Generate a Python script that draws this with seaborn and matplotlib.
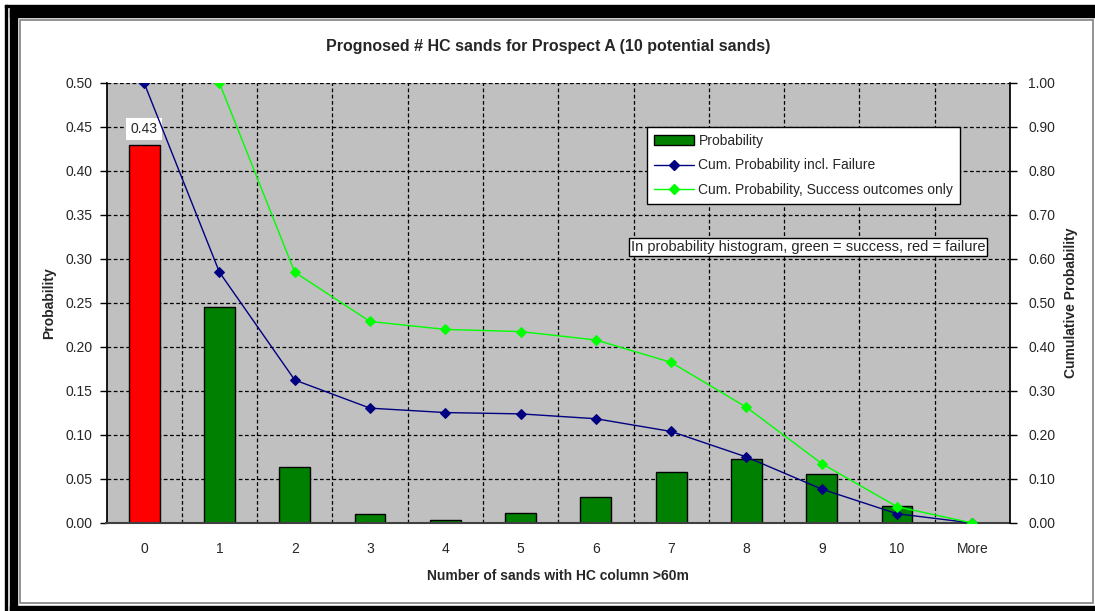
import numpy as np
import matplotlib
matplotlib.use("Agg")
import matplotlib.pyplot as plt
from matplotlib.patches import Rectangle, Patch
from matplotlib.lines import Line2D
import seaborn as sns

# Chart data
categories = ["0", "1", "2", "3", "4", "5", "6", "7", "8", "9", "10", "More"]
probability = [0.43, 0.245, 0.064, 0.010, 0.003, 0.011, 0.029, 0.058, 0.073, 0.056, 0.019, 0.0]
cum_incl_failure = [1.00, 0.570, 0.325, 0.261, 0.251, 0.248, 0.237, 0.208, 0.150, 0.077, 0.021, 0.0]
# success-only curve has no value at 0 sands
success_cats = ["1", "2", "3", "4", "5", "6", "7", "8", "9", "10", "More"]
cum_success_only = [1.00, 0.570, 0.458, 0.440, 0.435, 0.416, 0.365, 0.263, 0.135, 0.037, 0.0]
bar_colors = ["#FF0000"] + ["#008000"] * 11

sns.set_theme(style="white")
plt.rcParams["font.family"] = ["Liberation Sans", "DejaVu Sans"]

W, H = 1095, 611
fig = plt.figure(figsize=(W / 100, H / 100), dpi=100)
fig.patch.set_facecolor("white")


def frame_rect(x0, y0, x1, y1, **kw):
    # pixel box (top-left origin) -> figure rectangle
    fig.patches.append(Rectangle((x0 / W, 1 - y1 / H), (x1 - x0) / W, (y1 - y0) / H,
                                 transform=fig.transFigure, **kw))


# outer frame like the Excel chart border
frame_rect(5, 5, 6.7, 611, color="black")
frame_rect(5, 5, W, 6.7, color="black")
frame_rect(10, 8.5, 17.3, 611, color="black")
frame_rect(10, 8.5, W, 17, color="black")
frame_rect(10, 605.5, W, 611, color="black")
frame_rect(19.5, 19.5, 1093, 602.5, fill=False, edgecolor="#808080", linewidth=1.2)

ax_l, ax_r, ax_t, ax_b = 106.5, 1010, 83, 523
ax = fig.add_axes([ax_l / W, 1 - ax_b / H, (ax_r - ax_l) / W, (ax_b - ax_t) / H])
ax.set_facecolor("#C0C0C0")

x_pos = np.arange(len(categories))
sns.barplot(x=categories, y=probability, hue=categories, palette=bar_colors, legend=False,
            width=0.41, edgecolor="black", linewidth=1, ax=ax, saturation=1)

ax.set_xlim(-0.5, len(categories) - 0.5)
ax.set_ylim(0, 0.5)
ax.set_yticks(np.arange(0, 0.501, 0.05))
ax.set_yticklabels([f"{v:.2f}" for v in np.arange(0, 0.501, 0.05)], fontsize=10)
ax.set_xticks(np.arange(-0.5, len(categories), 1.0))
ax.set_xticklabels([])
ax.set_xticks(x_pos, minor=True)
ax.set_xticklabels(categories, minor=True, fontsize=10)
ax.tick_params(axis="x", which="major", length=5, width=1, color="black", direction="out")
ax.tick_params(axis="x", which="minor", length=0, pad=14)
ax.tick_params(axis="y", length=5, width=1, color="black", direction="out", left=True, pad=5)
ax.grid(True, which="major", color="black", linestyle=(0, (3, 2)), linewidth=0.9)
ax.set_axisbelow(True)
for s in ["top", "right"]:
    ax.spines[s].set_visible(False)
ax.spines["left"].set_color("black")
ax.spines["bottom"].set_color("#404040")
ax.spines["bottom"].set_linewidth(1.5)

ax.set_ylabel("Probability", fontsize=10, fontweight="bold", labelpad=7)
ax.set_xlabel("Number of sands with HC column >60m", fontsize=10, fontweight="bold", labelpad=9)
fig.text(548 / W, 1 - 47 / H, "Prognosed # HC sands for Prospect A (10 potential sands)",
         fontsize=11.5, fontweight="bold", ha="center", va="center")

# label on the failure bar
ax.annotate(f"{probability[0]:.2f}", (0, probability[0]), xytext=(0, 11), textcoords="offset points",
            ha="center", va="center", fontsize=10,
            bbox=dict(boxstyle="square,pad=0.3", facecolor="white", edgecolor="none"))

ax2 = ax.twinx()
sns.lineplot(x=x_pos, y=cum_incl_failure, ax=ax2, color="#000080", marker="D",
             markersize=5, markeredgecolor="#000080", linewidth=1)
sns.lineplot(x=x_pos[1:], y=cum_success_only, ax=ax2, color="#00FF00", marker="D",
             markersize=5, markeredgecolor="#00FF00", linewidth=1)
ax2.set_ylim(0, 1.0)
ax2.set_yticks(np.arange(0, 1.001, 0.1))
ax2.set_yticklabels([f"{v:.2f}" for v in np.arange(0, 1.001, 0.1)], fontsize=10)
ax2.tick_params(axis="y", length=5, width=1, color="black", direction="out", right=True, pad=8)
ax2.set_ylabel("Cumulative Probability", fontsize=10, fontweight="bold", labelpad=6)
for s in ["top", "left", "bottom"]:
    ax2.spines[s].set_visible(False)
ax2.spines["right"].set_color("black")
ax2.grid(False)

handles = [
    Patch(facecolor="#008000", edgecolor="black", label="Probability"),
    Line2D([], [], color="#000080", marker="D", markersize=5, linewidth=1,
           label="Cum. Probability incl. Failure"),
    Line2D([], [], color="#00FF00", marker="D", markersize=5, linewidth=1,
           label="Cum. Probability, Success outcomes only"),
]
aw, ah = ax_r - ax_l, ax_b - ax_t
leg = ax2.legend(handles=handles, loc="upper left",
                 bbox_to_anchor=((647 - ax_l) / aw, (ax_b - 127) / ah), borderaxespad=0,
                 fontsize=10, frameon=True, fancybox=False, framealpha=1, edgecolor="black",
                 borderpad=0.5, labelspacing=0.75, handlelength=2.9, handletextpad=0.3)
leg.get_frame().set_linewidth(1)

ax2.text((808 - ax_l) / aw, (ax_b - 247) / ah,
         "In probability histogram, green = success, red = failure",
         transform=ax2.transAxes, ha="center", va="center", fontsize=10.5, clip_on=False,
         bbox=dict(boxstyle="square,pad=0.15", facecolor="white", edgecolor="black", linewidth=1))

fig.savefig("out.png", dpi=100)
